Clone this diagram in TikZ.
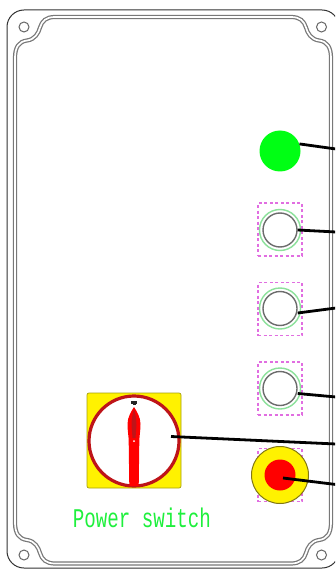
\documentclass[tikz,border=0pt]{standalone}
\usepackage{fontspec}
\setmonofont{Liberation Mono}
\definecolor{lampgreen}{RGB}{0,255,20}
\definecolor{textgreen}{RGB}{30,240,60}
\definecolor{ringgreen}{RGB}{140,225,155}
\definecolor{dashpink}{RGB}{225,110,225}
\definecolor{ringred}{RGB}{190,20,25}
\definecolor{olive}{RGB}{130,120,20}
\definecolor{gasket}{RGB}{120,120,120}
\tikzset{
  leader/.style={draw=black,line width=2.8pt},
  buttonframe/.style={draw=dashpink,dash pattern=on 3pt off 2.5pt,line width=1.1pt,minimum width=44pt,minimum height=53pt,inner sep=0pt},
  buttonring/.style={circle,draw=ringgreen,line width=1.4pt,minimum size=41pt,inner sep=0pt,fill=white},
  buttoncap/.style={circle,draw=gray!85!black,line width=1.4pt,minimum size=34pt,inner sep=0pt,fill=white},
  gasketline/.style={draw=gasket,line width=1.25pt,double=white,double distance=1.7pt},
  hole/.style={circle,draw=gray!80!black,line width=1pt,minimum size=10pt,inner sep=0pt}
}
\begin{document}
\begin{tikzpicture}[x=1pt,y=-1pt]
\useasboundingbox (0,0) rectangle (335,569);
\clip (0,0) rectangle (335,569);
\fill[white] (0,0) rectangle (335,569);
% panel outline
\draw[line width=1pt,draw=black!80,rounded corners=17pt] (7,10) rectangle (339,568);
% gasket
\draw[gasketline]
  (15,58) .. controls (15,47) and (19,41.5) .. (27,40.5) .. controls (35,39.5) and (38.5,33) .. (40,27.5) .. controls (42,21) and (46,17) .. (55,17)
  -- (291,17) .. controls (300,17) and (304,21) .. (306,27.5) .. controls (307.5,33) and (311,39.5) .. (319,40.5) .. controls (327,41.5) and (331,47) .. (331,58)
  -- (331,522.5) .. controls (331,533.5) and (327,539) .. (319,540) .. controls (311,541) and (307.5,547.5) .. (306,553) .. controls (304,559.5) and (300,563.5) .. (291,563.5)
  -- (55,563.5) .. controls (46,563.5) and (42,559.5) .. (40,553) .. controls (38.5,547.5) and (35,541) .. (27,540) .. controls (19,539) and (15,533.5) .. (15,522.5)
  -- cycle;
% screw holes
\node[hole] (holeA) at (24,27) {};
\node[hole] (holeB) at (321.5,27) {};
\node[hole] (holeC) at (24,555) {};
\node[hole] (holeD) at (321.5,555) {};
% lamp
\node[circle,fill=lampgreen,minimum size=41pt,inner sep=0pt] (lamp) at (280,151) {};
% buttons
\node[buttonframe] (frameA) at (280,229.5) {};
\node[buttonframe] (frameB) at (280,309) {};
\node[buttonframe] (frameC) at (280,388.5) {};
\node[buttonframe] (frameD) at (280,475) {};
\node[buttonring] (ringA) at (280,230) {};
\node[buttonring] (ringB) at (280,308.5) {};
\node[buttonring] (ringC) at (280,388.5) {};
\node[buttoncap] (capA) at (280,230) {};
\node[buttoncap] (capB) at (280,308.5) {};
\node[buttoncap] (capC) at (280,388.5) {};
% emergency stop
\node[circle,draw=olive,line width=1pt,fill=yellow,minimum size=57pt,inner sep=0pt] (stop) at (280,475) {};
\node[circle,fill=red,minimum size=31pt,inner sep=0pt] (stopcore) at (280,475) {};
% switch
\node[draw=olive!70!yellow,line width=.7pt,fill=yellow,rounded corners=2pt,minimum width=94pt,minimum height=95pt,inner sep=0pt] (plate) at (134,440.5) {};
\node[circle,draw=ringred,line width=3.2pt,fill=white,minimum size=90pt,inner sep=0pt] (dial) at (134,441) {};
\fill[red] (134,407) .. controls (136.5,411) and (140.5,417) .. (140.5,424) .. controls (140.5,431) and (139.3,436) .. (139.3,442) -- (138.7,486) -- (129.3,486) -- (128.7,442) .. controls (128.7,436) and (127.5,431) .. (127.5,424) .. controls (127.5,417) and (131.5,411) .. (134,407) -- cycle;
\fill[ringred] (134,409) .. controls (135.5,414) and (136.5,420) .. (136.5,425) -- (135.5,438) -- (132.5,438) -- (131.5,425) .. controls (131.5,420) and (132.5,414) .. (134,409) -- cycle;
\fill[white] (134,441) circle (1pt);
\fill[black!85] (131,400.5) rectangle (137,403.5);
\fill[black!85] (132.5,403.5) rectangle (135.5,404.5);
% text
\node[font=\ttfamily,text=textgreen,xscale=.71,inner sep=0pt,anchor=base] (label) at (142,527) {\fontsize{27}{30}\selectfont Power switch};
% leaders
\coordinate (endLamp) at (336,149);
\coordinate (endA) at (336,232);
\coordinate (endB) at (336,308);
\coordinate (endC) at (336,397);
\coordinate (endSwitch) at (336,444);
\coordinate (endStop) at (336,484.5);
\coordinate (startSwitch) at (171,436.5);
\coordinate (startStop) at (283,478);
\draw[leader] (lamp.20) -- (endLamp);
\draw[leader] (capA.east) -- (endA);
\draw[leader] (capB.east) ++(0,4.5) -- (endB);
\draw[leader] (capC.east) ++(0,5) -- (endC);
\draw[leader] (startSwitch) -- (endSwitch);
\draw[leader] (startStop) -- (endStop);
\end{tikzpicture}
\end{document}
